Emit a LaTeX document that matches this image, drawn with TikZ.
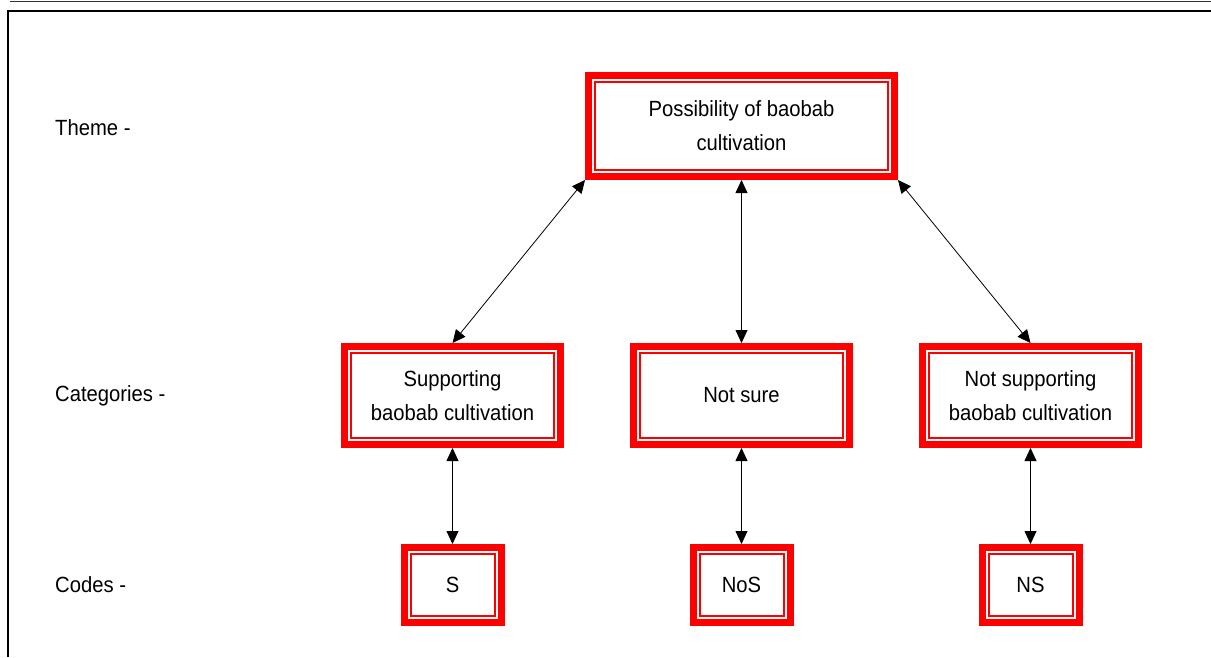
\documentclass[tikz,border=0pt]{standalone}
\usepackage{fontspec}
\setmainfont{Liberation Sans}[FakeStretch=0.92]
\usepackage{xcolor}
\usepackage{tikz}
\usetikzlibrary{positioning,arrows.meta}

\begin{document}
\begin{tikzpicture}[
    x=1pt, y=-1pt,
    redbox/.style={
        draw=red,
        line width=7pt,
        align=center,
        font=\fontsize{22}{34}\selectfont,
        path picture={
            \draw[red, line width=2pt]
                ([shift={(6.5pt,-6.5pt)}]path picture bounding box.north west)
                rectangle
                ([shift={(-6.5pt,6.5pt)}]path picture bounding box.south east);
        }
    },
    themebox/.style={redbox, minimum width=306pt, minimum height=101pt},
    catbox/.style={redbox, minimum width=216pt, minimum height=98pt},
    codebox/.style={redbox, minimum width=97pt, minimum height=75pt},
    levellabel/.style={anchor=west, inner sep=0pt, font=\fontsize{22}{26}\selectfont},
    twoway/.style={{Triangle[length=13pt,width=12pt]}-{Triangle[length=13pt,width=12pt]}, line width=0.8pt}
]
\useasboundingbox (0,0) rectangle (1211,657);

% --- moldura ---
\draw[line width=1pt, black!80] (10,1) -- (1211,1);
\draw[line width=2.5pt] (8,657) -- (8,11) -- (1211,11);

% --- rotulos dos niveis ---
\node[levellabel] (themelbl) at (55,128) {Theme -};
\node[levellabel] (catlbl) at (55,396) {Categories -};
\node[levellabel] (codelbl) at (55,585) {Codes -};

% --- tema ---
\node[themebox] (theme) at (741.5,126) {Possibility of baobab\\cultivation};

% --- categorias ---
\node[catbox] (notsure) [below=163pt of theme] {Not sure};
\node[catbox] (support) [left=66pt of notsure] {Supporting\\baobab cultivation};
\node[catbox] (notsupport) [right=66pt of notsure] {Not supporting\\baobab cultivation};

% --- codigos ---
\node[codebox] (S) [below=96pt of support] {S};
\node[codebox] (NoS) [below=96pt of notsure] {NoS};
\node[codebox] (NS) [below=96pt of notsupport] {NS};

% --- setas ---
\draw[twoway] (theme.south west) -- (support.north);
\draw[twoway] (theme.south) -- (notsure.north);
\draw[twoway] (theme.south east) -- (notsupport.north);
\draw[twoway] (support.south) -- (S.north);
\draw[twoway] (notsure.south) -- (NoS.north);
\draw[twoway] (notsupport.south) -- (NS.north);

\end{tikzpicture}
\end{document}
